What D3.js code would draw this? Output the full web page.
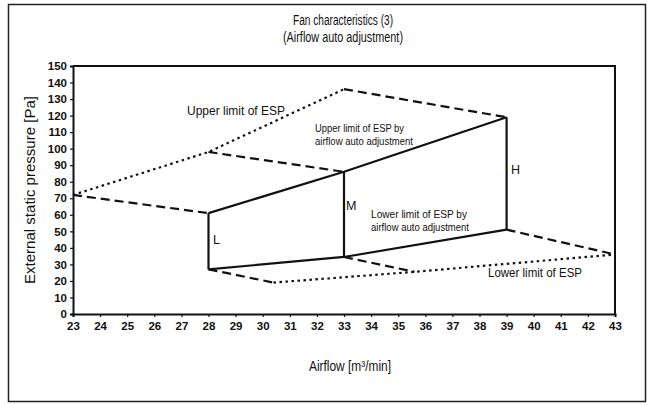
<!DOCTYPE html>
<html><head><meta charset="utf-8">
<script src="https://cdn.jsdelivr.net/npm/d3@7"></script>
<style>
body{margin:0;background:#fff;}
svg{display:block;}
text{font-family:"Liberation Sans",Arial,sans-serif;}
</style></head>
<body>
<svg id="c" width="651" height="405"></svg>
<script>
// ---- data ----
const xTickValues = [23,24,25,26,27,28,29,30,31,32,33,34,35,36,37,38,39,40,41,42,43];
const yTickValues = [0,10,20,30,40,50,60,70,80,90,100,110,120,130,140,150];
// dotted: upper and lower limit of ESP
const upperLimitESP = [[23,72],[28,98],[33,136]];
const lowerLimitESP = [[30.4,19],[35.6,25.5],[43,36]];
// solid: limits by airflow auto adjustment
const autoUpper = [[28,61],[33,86],[39,119]];
const autoLower = [[28,27],[33,34.5],[39,51]];
const tapNames = ["L","M","H"];
// dashed connectors
const dashedLinks = [
  [[23,72],[28,61]],
  [[28,98],[33,86]],
  [[33,136],[39,119]],
  [[28,27],[30.4,19]],
  [[33,34.5],[35.6,25.5]],
  [[39,51],[43,36]]
];

const svg = d3.select("#c");
const x = d3.scaleLinear().domain([23,43]).range([73,615]);
const y = d3.scaleLinear().domain([0,150]).range([314,66]);

function txt(g, px, py, s, size, len, anchor){
  const t = g.append("text").attr("x",px).attr("y",py).attr("font-size",size)
    .attr("fill","#111").attr("text-anchor",anchor||"start").text(s);
  if(len) t.attr("textLength",len).attr("lengthAdjust","spacingAndGlyphs");
  return t;
}

// outer frame
svg.append("rect").attr("x",8.5).attr("y",4.5).attr("width",637).attr("height",397)
  .attr("fill","none").attr("stroke","#222").attr("stroke-width",1.5);

// title
txt(svg,343,25,"Fan characteristics (3)",14,100,"middle");
txt(svg,343,42,"(Airflow auto adjustment)",14,120,"middle");

// plot frame (top and right)
svg.append("path").attr("d",`M${x(23)},${y(150)}H${x(43)}V${y(0)}`)
  .attr("fill","none").attr("stroke","#111").attr("stroke-width",2);

// axes
const yAxis = svg.append("g").attr("transform",`translate(${x(23)},0)`)
  .call(d3.axisLeft(y).tickValues(yTickValues).tickSize(3).tickPadding(3));
const xAxis = svg.append("g").attr("transform",`translate(0,${y(0)})`)
  .call(d3.axisBottom(x).tickValues(xTickValues).tickSize(3).tickPadding(5));
[yAxis,xAxis].forEach(g=>{
  g.select(".domain").attr("stroke","#111").attr("stroke-width",2);
  g.selectAll(".tick line").attr("stroke","#111").attr("stroke-width",1.2);
  g.selectAll(".tick text").attr("font-family","'Liberation Sans',Arial,sans-serif")
    .attr("font-weight","bold").attr("font-size",11.5).attr("fill","#111");
});

// axis titles
txt(svg,0,0,"External static pressure [Pa]",14,188,"middle")
  .attr("transform",`translate(35,190) rotate(-90)`);
txt(svg,350,371,"Airflow [m³/min]",14,82,"middle");

const line = d3.line().x(d=>x(d[0])).y(d=>y(d[1]));
const marks = svg.append("g").attr("fill","none").attr("stroke","#111").attr("stroke-linejoin","round");

// dotted
[upperLimitESP, lowerLimitESP].forEach(s=>{
  marks.append("path").attr("d",line(s)).attr("stroke-width",2.2).attr("stroke-dasharray","2.5,3.5");
});
// dashed
dashedLinks.forEach(s=>{
  marks.append("path").attr("d",line(s)).attr("stroke-width",2.2).attr("stroke-dasharray","9,5");
});
// solid
[autoUpper, autoLower].forEach(s=>{
  marks.append("path").attr("d",line(s)).attr("stroke-width",2.2);
});
autoUpper.forEach((p,i)=>{
  marks.append("path").attr("d",line([autoLower[i],p])).attr("stroke-width",2.2);
});

// labels
const lab = svg.append("g");
txt(lab,187,115,"Upper limit of ESP",13.5,98);
txt(lab,315,132,"Upper limit of ESP by",11,89);
txt(lab,315,145,"airflow auto adjustment",11,98);
txt(lab,371,218,"Lower limit of ESP by",11,96);
txt(lab,371,231,"airflow auto adjustment",11,98);
txt(lab,488,277,"Lower limit of ESP",13.5,94);
const tapPos = [[213,244],[346,210],[511,174]];
tapNames.forEach((n,i)=>{
  txt(lab,tapPos[i][0],tapPos[i][1],n,12.5);
});
</script>
</body></html>
